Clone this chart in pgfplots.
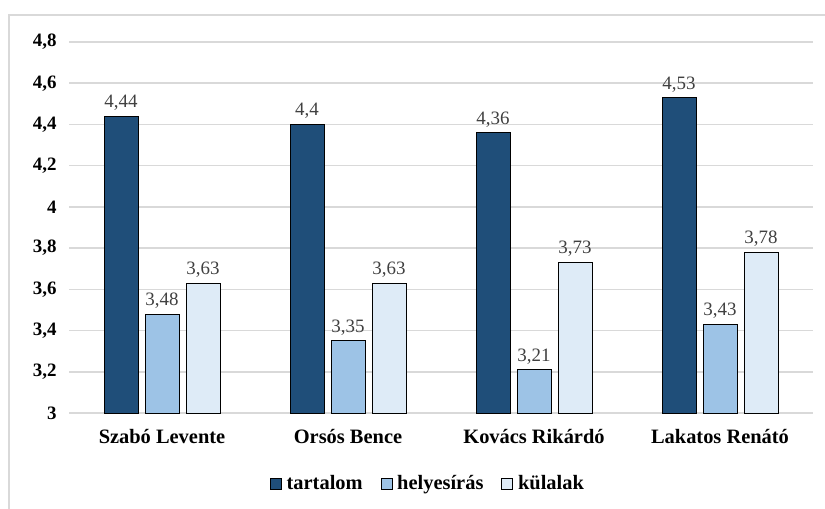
\documentclass[border=0pt]{standalone}
\usepackage{pgfplots}
\pgfplotsset{compat=1.18}
\usepackage{fontspec}
\setmainfont{Liberation Serif}
\definecolor{c1}{HTML}{1F4E79}
\definecolor{c2}{HTML}{9DC3E6}
\definecolor{c3}{HTML}{DEEBF7}
\definecolor{gridc}{HTML}{D9D9D9}
\definecolor{valc}{HTML}{404040}
\begin{document}
\begin{tikzpicture}
\path[use as bounding box] (-69bp,-96bp) rectangle (756bp,413bp);
\draw[gridc, line width=1.5bp] (-60bp,-96bp) -- (-60bp,398bp) -- (756bp,398bp);
\begin{axis}[
  width=744bp, height=371bp, scale only axis,
  ybar=7bp, bar width=34bp,
  xmin=-0.5, xmax=3.5, ymin=3, ymax=4.8,
  xtick={0,1,2,3},
  xticklabels={Szabó Levente, Orsós Bence, Kovács Rikárdó, Lakatos Renátó},
  ytick={3,3.2,3.4,3.6,3.8,4,4.2,4.4,4.6,4.8},
  /pgf/number format/use comma, /pgf/number format/fixed,
  /pgf/number format/precision=2, /pgf/number format/assume math mode=true,
  yticklabel style={font=\bfseries\fontsize{19}{19}\selectfont, xshift=-9bp},
  xticklabel style={font=\bfseries\fontsize{20.5}{20.5}\selectfont, yshift=-13bp},
  axis lines*=left,
  y axis line style={draw=none},
  x axis line style={draw=gridc, line width=1.5bp},
  major tick length=0pt,
  ymajorgrids, grid style={draw=gridc, line width=1.5bp},
  tick label style={black},
  nodes near coords={\pgfmathprintnumber{\pgfplotspointmeta}},
  every node near coord/.append style={font=\fontsize{19}{19}\selectfont, color=valc, yshift=2bp},
  legend style={at={(0.4825,-0.189)}, anchor=center, draw=none, legend columns=3,
    font=\bfseries\fontsize{20.5}{20.5}\selectfont,
    /tikz/every odd column/.append style={column sep=3bp},
    /tikz/every even column/.append style={column sep=16bp}},
]
\addplot[fill=c1, draw=black, line width=0.8bp,
  legend image code/.code={\draw[fill=c1,draw=black,line width=0.6bp] (0bp,-6bp) rectangle (11bp,5bp);}]
  coordinates {(0,4.44) (1,4.4) (2,4.36) (3,4.53)};
\addplot[fill=c2, draw=black, line width=0.8bp,
  legend image code/.code={\draw[fill=c2,draw=black,line width=0.6bp] (0bp,-6bp) rectangle (11bp,5bp);}]
  coordinates {(0,3.48) (1,3.35) (2,3.21) (3,3.43)};
\addplot[fill=c3, draw=black, line width=0.8bp,
  legend image code/.code={\draw[fill=c3,draw=black,line width=0.6bp] (0bp,-6bp) rectangle (11bp,5bp);}]
  coordinates {(0,3.63) (1,3.63) (2,3.73) (3,3.78)};
\legend{tartalom, helyesírás, külalak}
\end{axis}
\end{tikzpicture}
\end{document}
